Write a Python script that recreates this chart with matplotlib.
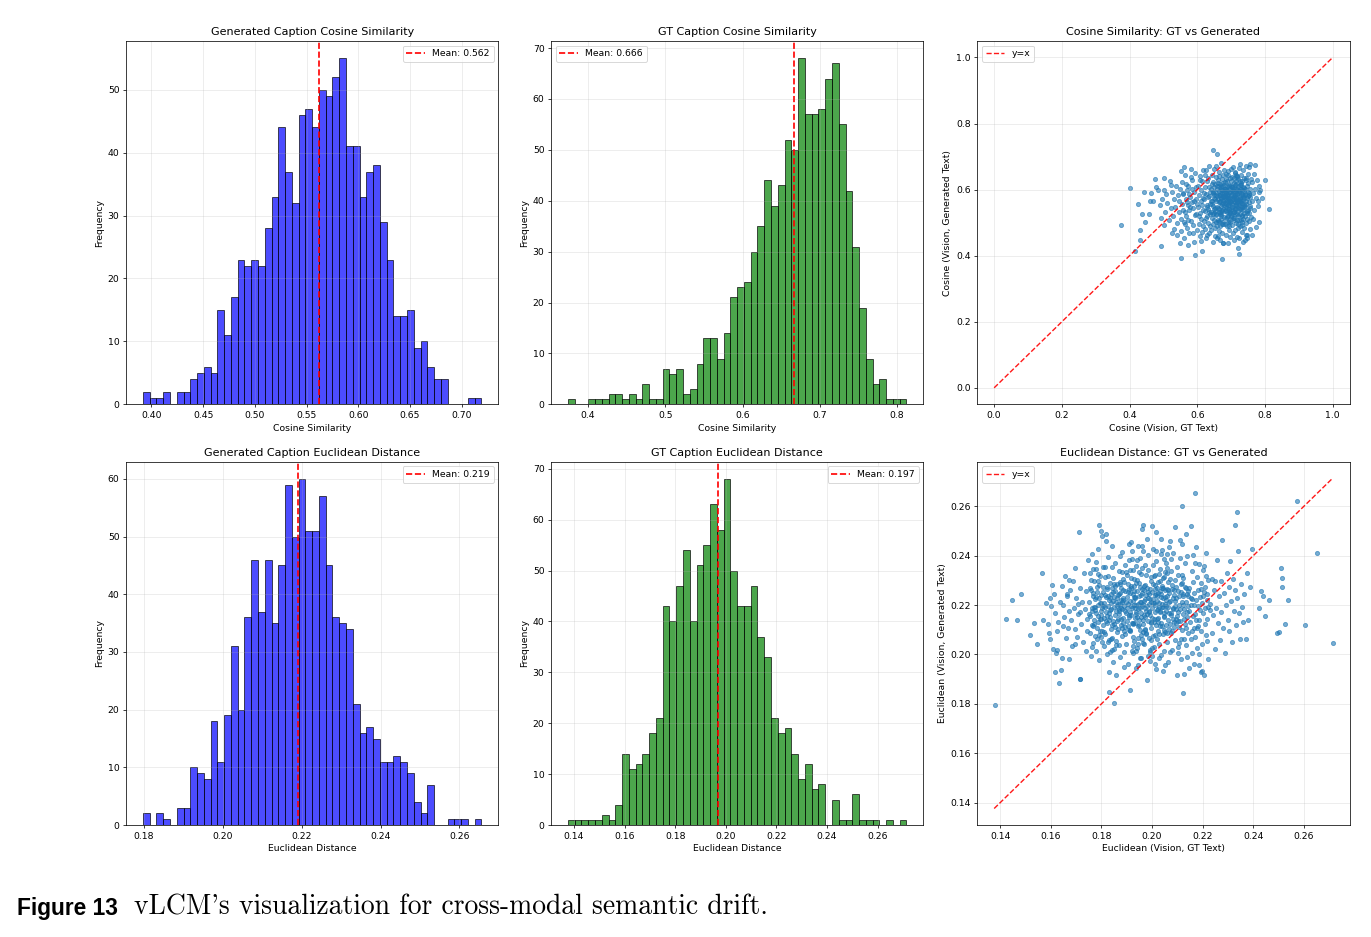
import numpy as np
import matplotlib.pyplot as plt

# histogram counts (50 bins each)
gen_cos_counts = [2, 1, 1, 2, 0, 2, 2, 4, 5, 6,
                  5, 15, 11, 17, 23, 22, 23, 22, 28, 33,
                  44, 37, 32, 46, 47, 44, 50, 49, 52, 55,
                  41, 41, 33, 37, 38, 29, 23, 14, 14, 15,
                  9, 10, 6, 4, 4, 0, 0, 0, 1, 1]
gt_cos_counts = [1, 0, 0, 1, 1, 1, 2, 2, 1, 2,
                 1, 4, 1, 1, 7, 6, 7, 2, 3, 8,
                 13, 13, 9, 14, 21, 23, 24, 30, 35, 44,
                 39, 43, 52, 50, 68, 57, 57, 58, 64, 67,
                 55, 42, 31, 19, 9, 4, 5, 1, 1, 1]
gen_euc_counts = [2, 0, 2, 1, 0, 3, 3, 10, 9, 8,
                  18, 11, 19, 31, 20, 36, 46, 37, 46, 35,
                  45, 59, 50, 60, 51, 51, 57, 45, 36, 35,
                  34, 21, 16, 17, 15, 11, 11, 12, 11, 9,
                  4, 2, 7, 0, 0, 1, 1, 1, 0, 1]
gt_euc_counts = [1, 1, 1, 1, 1, 2, 1, 4, 14, 11,
                 12, 14, 18, 21, 43, 40, 47, 54, 40, 51,
                 55, 63, 58, 68, 50, 43, 43, 47, 37, 33,
                 21, 18, 19, 14, 9, 12, 7, 8, 0, 5,
                 1, 1, 6, 1, 1, 1, 0, 1, 0, 1]

gen_cos_range = (0.3918, 0.7191)
gt_cos_range = (0.3739, 0.8121)
gen_euc_range = (0.1797, 0.2656)
gt_euc_range = (0.1376, 0.2714)

gen_cos_mean = 0.562
gt_cos_mean = 0.666
gen_euc_mean = 0.219
gt_euc_mean = 0.197

# cosine scatter: (GT text, generated text)
cos_tail = [(0.374,0.494),(0.400,0.604),(0.415,0.414),(0.426,0.557),(0.430,0.448),(0.432,0.477),
            (0.437,0.527),(0.443,0.592),(0.446,0.501),(0.456,0.527),(0.459,0.564),(0.463,0.589),
            (0.468,0.566),(0.476,0.631),(0.478,0.609),(0.484,0.598),(0.489,0.552),(0.492,0.515),
            (0.494,0.428),(0.497,0.573),(0.501,0.599),(0.503,0.634),(0.503,0.493),(0.505,0.532),
            (0.508,0.586),(0.512,0.560),(0.515,0.508),(0.518,0.627),(0.521,0.615),(0.521,0.545),
            (0.524,0.470),(0.526,0.592),(0.528,0.520),(0.531,0.481),(0.532,0.573),(0.535,0.548),
            (0.537,0.610),(0.539,0.499),(0.541,0.462),(0.543,0.585),(0.545,0.531),(0.547,0.566),
            (0.548,0.437),(0.549,0.603)]
cos_band = [(0.551,0.512),(0.552,0.392),(0.553,0.656),(0.553,0.475),(0.555,0.557),(0.556,0.624),
            (0.558,0.539),(0.559,0.586),(0.560,0.667),(0.561,0.453),(0.562,0.501),(0.564,0.645),
            (0.566,0.572),(0.567,0.521),(0.569,0.598),(0.571,0.484),(0.572,0.553),(0.574,0.612),
            (0.574,0.432),(0.575,0.537),(0.577,0.468),(0.578,0.579),(0.580,0.506),(0.581,0.662),
            (0.583,0.561),(0.584,0.629),(0.586,0.493),(0.587,0.545),(0.589,0.594),(0.590,0.441),
            (0.592,0.523),(0.593,0.650),(0.594,0.401),(0.595,0.571),(0.596,0.609),(0.598,0.478),
            (0.599,0.556),(0.557,0.589),(0.563,0.532),(0.568,0.617),(0.573,0.509),(0.579,0.548),
            (0.585,0.603),(0.591,0.566),(0.597,0.527),(0.588,0.468),(0.582,0.638),(0.576,0.587),
            (0.565,0.496),(0.570,0.563)]
cos_core = [(0.601,0.548),(0.603,0.612),(0.604,0.497),(0.606,0.583),(0.607,0.461),(0.608,0.530),
            (0.609,0.641),(0.610,0.566),(0.611,0.512),(0.612,0.598),(0.613,0.473),(0.614,0.552),
            (0.615,0.627),(0.616,0.489),(0.616,0.575),(0.617,0.539),(0.618,0.660),(0.619,0.504),
            (0.619,0.590),(0.612,0.445),(0.605,0.520),(0.609,0.628),
            (0.621,0.571),(0.622,0.482),(0.623,0.609),(0.624,0.536),(0.625,0.658),(0.626,0.514),
            (0.627,0.588),(0.628,0.463),(0.629,0.553),(0.630,0.625),(0.631,0.499),(0.632,0.577),
            (0.633,0.541),(0.634,0.672),(0.635,0.608),(0.636,0.468),(0.637,0.526),(0.638,0.594),
            (0.639,0.557),(0.622,0.643),(0.626,0.452),(0.629,0.519),(0.633,0.636),(0.636,0.581),
            (0.639,0.490),(0.630,0.548),
            (0.641,0.532),(0.641,0.601),(0.642,0.478),(0.643,0.566),(0.643,0.645),(0.644,0.513),
            (0.645,0.589),(0.645,0.442),(0.646,0.551),(0.647,0.624),(0.647,0.497),(0.648,0.574),
            (0.649,0.530),(0.649,0.663),(0.650,0.607),(0.651,0.484),(0.651,0.545),(0.652,0.592),
            (0.653,0.461),(0.653,0.618),(0.654,0.522),(0.655,0.566),(0.655,0.638),(0.656,0.503),
            (0.657,0.581),(0.657,0.454),(0.658,0.548),(0.659,0.611),(0.659,0.489),(0.644,0.557),
            (0.648,0.585),(0.652,0.536),(0.656,0.672),(0.646,0.525),
            (0.661,0.571),(0.661,0.508),(0.662,0.629),(0.662,0.544),(0.663,0.476),(0.664,0.597),
            (0.664,0.533),(0.665,0.652),(0.665,0.562),(0.666,0.491),(0.667,0.616),(0.667,0.525),
            (0.668,0.583),(0.668,0.448),(0.669,0.549),(0.670,0.607),(0.670,0.512),(0.671,0.574),
            (0.671,0.680),(0.672,0.537),(0.673,0.633),(0.673,0.469),(0.674,0.590),(0.674,0.556),
            (0.675,0.503),(0.676,0.621),(0.676,0.568),(0.677,0.437),(0.677,0.541),(0.678,0.596),
            (0.679,0.518),(0.679,0.659),(0.663,0.585),(0.666,0.531),(0.669,0.603),(0.672,0.495),
            (0.675,0.578),(0.678,0.552),(0.661,0.461),(0.665,0.640),(0.670,0.526),(0.674,0.612),
            (0.677,0.580),(0.668,0.566),
            (0.681,0.559),(0.681,0.622),(0.682,0.497),(0.682,0.585),(0.683,0.536),(0.684,0.648),
            (0.684,0.514),(0.685,0.571),(0.685,0.462),(0.686,0.603),(0.687,0.545),(0.687,0.627),
            (0.688,0.489),(0.688,0.566),(0.689,0.599),(0.690,0.521),(0.690,0.657),(0.691,0.552),
            (0.691,0.437),(0.692,0.588),(0.693,0.506),(0.693,0.615),(0.694,0.542),(0.694,0.478),
            (0.695,0.574),(0.696,0.634),(0.696,0.529),(0.697,0.593),(0.697,0.455),(0.698,0.561),
            (0.699,0.611),(0.699,0.518),(0.683,0.581),(0.686,0.548),(0.689,0.531),(0.692,0.644),
            (0.695,0.567),(0.698,0.501),(0.681,0.603),(0.685,0.590),(0.690,0.575),(0.694,0.558),
            (0.697,0.536),(0.688,0.612),
            (0.701,0.584),(0.701,0.521),(0.702,0.637),(0.702,0.556),(0.703,0.493),(0.704,0.608),
            (0.704,0.547),(0.705,0.668),(0.705,0.573),(0.706,0.468),(0.707,0.596),(0.707,0.532),
            (0.708,0.621),(0.708,0.508),(0.709,0.562),(0.710,0.649),(0.710,0.541),(0.711,0.585),
            (0.711,0.479),(0.712,0.613),(0.713,0.554),(0.713,0.627),(0.714,0.499),(0.714,0.571),
            (0.715,0.542),(0.716,0.601),(0.716,0.456),(0.717,0.588),(0.717,0.525),(0.718,0.639),
            (0.719,0.566),(0.719,0.485),(0.703,0.598),(0.706,0.579),(0.709,0.533),(0.712,0.562),
            (0.715,0.617),(0.718,0.550),(0.701,0.661),(0.705,0.515),(0.710,0.594),(0.714,0.643),
            (0.717,0.509),(0.708,0.578),
            (0.721,0.571),(0.721,0.632),(0.722,0.508),(0.723,0.589),(0.723,0.454),(0.724,0.553),
            (0.725,0.615),(0.725,0.527),(0.726,0.676),(0.727,0.576),(0.727,0.491),(0.728,0.601),
            (0.729,0.542),(0.729,0.644),(0.730,0.566),(0.731,0.473),(0.731,0.598),(0.732,0.521),
            (0.733,0.627),(0.733,0.560),(0.734,0.442),(0.735,0.583),(0.735,0.659),(0.736,0.512),
            (0.737,0.604),(0.737,0.547),(0.738,0.574),(0.739,0.485),(0.722,0.596),(0.726,0.540),
            (0.730,0.619),(0.734,0.579),(0.738,0.530),(0.724,0.666),(0.728,0.559),(0.732,0.502),
            (0.741,0.583),(0.742,0.521),(0.743,0.628),(0.744,0.557),(0.745,0.498),(0.746,0.611),
            (0.747,0.462),(0.748,0.574),(0.749,0.647),(0.750,0.539),(0.751,0.592),(0.752,0.506),
            (0.753,0.668),(0.754,0.561),(0.755,0.480),(0.756,0.603),(0.757,0.544),(0.758,0.632),
            (0.759,0.517),(0.744,0.670),(0.748,0.452),(0.752,0.589),(0.746,0.536),(0.755,0.577),
            (0.761,0.566),(0.762,0.623),(0.764,0.511),(0.765,0.589),(0.767,0.648),(0.768,0.537),
            (0.770,0.602),(0.772,0.574),(0.774,0.487),(0.776,0.628),(0.779,0.551),(0.782,0.612),
            (0.786,0.598),(0.763,0.463)]
cos_core2 = [(0.652,0.571),(0.658,0.603),(0.663,0.542),(0.667,0.589),(0.671,0.521),(0.676,0.558),
             (0.680,0.614),(0.684,0.537),(0.688,0.581),(0.692,0.503),(0.696,0.566),(0.699,0.627),
             (0.703,0.548),(0.706,0.592),(0.709,0.515),(0.713,0.577),(0.716,0.641),(0.720,0.535),
             (0.723,0.598),(0.727,0.562),(0.730,0.509),(0.734,0.609),(0.738,0.553),(0.742,0.586),
             (0.746,0.529),(0.750,0.619),(0.655,0.527),(0.661,0.619),(0.666,0.561),(0.672,0.598),
             (0.677,0.497),(0.682,0.569),(0.686,0.631),(0.690,0.552),(0.694,0.593),(0.698,0.531),
             (0.702,0.609),(0.707,0.571),(0.711,0.544),(0.715,0.603),(0.719,0.497),(0.722,0.567),
             (0.726,0.626),(0.731,0.586),(0.735,0.538),(0.740,0.601),(0.744,0.566),(0.748,0.512),
             (0.753,0.583),(0.757,0.551),(0.640,0.566),(0.646,0.594),(0.650,0.541),(0.656,0.583),
             (0.660,0.503),(0.665,0.612),(0.669,0.574),(0.674,0.534),(0.679,0.589),(0.683,0.601),
             (0.687,0.518),(0.691,0.574),(0.695,0.611),(0.700,0.541),(0.704,0.583),(0.708,0.636),
             (0.712,0.525),(0.717,0.561),(0.721,0.612),(0.725,0.546),(0.729,0.583),(0.733,0.523),
             (0.737,0.596),(0.741,0.549),(0.745,0.636),(0.749,0.582),(0.754,0.528),(0.636,0.533),
             (0.643,0.617),(0.648,0.509),(0.684,0.556),(0.689,0.585),(0.693,0.528),(0.697,0.601),
             (0.701,0.563),(0.705,0.529),(0.709,0.606),(0.713,0.556),(0.717,0.588),(0.721,0.521),
             (0.725,0.571),(0.728,0.614),(0.732,0.548),(0.736,0.567),(0.739,0.634),(0.676,0.644),
             (0.694,0.491),(0.712,0.652),(0.731,0.493),(0.664,0.504)]
cos_outer = [(0.615,0.413),(0.646,0.719),(0.658,0.707),(0.674,0.389),(0.724,0.405),(0.720,0.424),
             (0.813,0.542),(0.799,0.629),(0.791,0.576),(0.783,0.592),(0.783,0.501),(0.778,0.565),
             (0.770,0.675),(0.756,0.679),(0.744,0.464),(0.741,0.446),(0.707,0.447),(0.677,0.437)]

# euclidean scatter: (GT text, generated text)
euc_outer = [(0.1379,0.1797),(0.1421,0.2143),(0.1447,0.2220),(0.1468,0.2141),(0.1484,0.2246),
             (0.1518,0.2077),(0.1532,0.2129),(0.1547,0.2042),(0.1564,0.2329),(0.1570,0.2141),
             (0.1587,0.2123),(0.1581,0.2208),
             (0.2714,0.2045),(0.2653,0.2411),(0.2604,0.2119),(0.2574,0.2620),(0.2538,0.2222),
             (0.2524,0.2123),(0.2514,0.2309),(0.2514,0.2275),(0.2508,0.2351),(0.2501,0.2091),
             (0.2495,0.2085),(0.2464,0.2219),(0.2438,0.2238),(0.2432,0.2258),(0.2445,0.2154),
             (0.2422,0.2188),(0.2395,0.2428),(0.2387,0.2275),
             (0.2170,0.2655),(0.2117,0.2600),(0.2337,0.2578),(0.2328,0.2523),(0.1851,0.1805),
             (0.1830,0.1847),(0.1912,0.1857),(0.2122,0.1842),(0.1716,0.1902)]
euc_a = [(0.1592,0.2087),(0.1597,0.2064),(0.1601,0.2195),(0.1604,0.2281),(0.1609,0.2024),
         (0.1612,0.2246),(0.1615,0.1928),(0.1618,0.2168),(0.1623,0.2094),(0.1626,0.2020),
         (0.1629,0.2131),(0.1633,0.1885),(0.1636,0.2213),(0.1640,0.1936),(0.1643,0.2279),
         (0.1646,0.1986),(0.1650,0.2201),(0.1653,0.2152),(0.1657,0.2318),(0.1660,0.2067),
         (0.1663,0.2243),(0.1667,0.2109),(0.1670,0.2176),(0.1673,0.1981),(0.1677,0.2262),
         (0.1680,0.2138),(0.1684,0.2034),(0.1687,0.2297),(0.1690,0.2189),(0.1694,0.2103),
         (0.1697,0.2352),(0.1700,0.2227),(0.1704,0.2071),(0.1707,0.2164),(0.1711,0.2496),
         (0.1714,0.1902),(0.1717,0.2268),(0.1720,0.2125),(0.1724,0.2214),(0.1727,0.2049),
         (0.1731,0.2330),(0.1734,0.2183),(0.1737,0.2257),(0.1741,0.2097),(0.1744,0.2145),
         (0.1747,0.2381),(0.1598,0.2228),(0.1621,0.2006),(0.1648,0.2117),(0.1672,0.2302),
         (0.1695,0.2041),(0.1716,0.2172),(0.1738,0.2013),(0.1662,0.2238),(0.1709,0.2204)]
euc_b = [(0.1751,0.2213),(0.1753,0.2087),(0.1754,0.2329),(0.1756,0.2154),(0.1758,0.2262),
         (0.1759,0.1993),(0.1761,0.2178),(0.1762,0.2405),(0.1764,0.2121),(0.1766,0.2236),
         (0.1767,0.2046),(0.1769,0.2191),(0.1770,0.2298),(0.1772,0.2139),(0.1774,0.2224),
         (0.1775,0.2073),(0.1777,0.2347),(0.1778,0.2166),(0.1780,0.2015),(0.1782,0.2251),
         (0.1783,0.2109),(0.1785,0.2199),(0.1786,0.2426),(0.1788,0.2132),(0.1790,0.2283),
         (0.1791,0.1978),(0.1793,0.2207),(0.1794,0.2094),(0.1796,0.2317),(0.1798,0.2160),
         (0.1799,0.2241),(0.1801,0.2052),(0.1802,0.2189),(0.1804,0.2478),(0.1806,0.2118),
         (0.1807,0.2272),(0.1809,0.2035),(0.1810,0.2209),(0.1812,0.2146),(0.1814,0.2356),
         (0.1815,0.2081),(0.1817,0.2232),(0.1818,0.2171),(0.1820,0.2003),(0.1822,0.2264),
         (0.1823,0.2127),(0.1825,0.2393),(0.1826,0.2197),(0.1828,0.2058),(0.1830,0.2219),
         (0.1831,0.1927),(0.1833,0.2152),(0.1834,0.2289),(0.1836,0.2102),(0.1838,0.2245),
         (0.1839,0.2183),(0.1841,0.2441),(0.1842,0.2068),(0.1844,0.2217),(0.1846,0.2136),
         (0.1847,0.2309),(0.1849,0.2023),(0.1850,0.2193),(0.1852,0.2257),(0.1854,0.2112),
         (0.1855,0.2371),(0.1857,0.1918),(0.1858,0.2175),(0.1860,0.2228),(0.1862,0.2089),
         (0.1863,0.2286),(0.1865,0.2142),(0.1866,0.2203),(0.1868,0.2037),(0.1870,0.2339),
         (0.1871,0.2164),(0.1873,0.2249),(0.1874,0.1989),(0.1876,0.2121),(0.1878,0.2271),
         (0.1879,0.2187),(0.1881,0.2415),(0.1882,0.2076),(0.1884,0.2222),(0.1886,0.2148),
         (0.1887,0.2305),(0.1889,0.2009),(0.1890,0.2196),(0.1892,0.2255),(0.1894,0.2113),
         (0.1895,0.2363),(0.1897,0.2168),(0.1898,0.2043),(0.1900,0.2231),(0.1902,0.2134),
         (0.1903,0.2287),(0.1905,0.1962),(0.1906,0.2205),(0.1908,0.2098),(0.1910,0.2446),
         (0.1752,0.2165),(0.1757,0.2301),(0.1763,0.2029),(0.1768,0.2248),(0.1773,0.2182),
         (0.1779,0.2376),(0.1784,0.2061),(0.1789,0.2229),(0.1795,0.2143),(0.1800,0.2502),
         (0.1805,0.2198),(0.1811,0.2092),(0.1816,0.2314),(0.1821,0.2157),(0.1827,0.2238),
         (0.1832,0.2011),(0.1837,0.2207),(0.1843,0.2355),(0.1848,0.2124),(0.1853,0.2276),
         (0.1859,0.2054),(0.1864,0.2241),(0.1869,0.2186),(0.1875,0.2399),(0.1880,0.2107),
         (0.1885,0.2262),(0.1891,0.1951),(0.1896,0.2214),(0.1901,0.2322),(0.1907,0.2159),
         (0.1754,0.2271),(0.1765,0.2116),(0.1776,0.2194),(0.1787,0.2327),(0.1797,0.2071),
         (0.1808,0.2253),(0.1819,0.2459),(0.1829,0.2169),(0.1840,0.2019),(0.1851,0.2232),
         (0.1861,0.2137),(0.1872,0.2292),(0.1883,0.2186),(0.1893,0.2083),(0.1904,0.2253),
         (0.1909,0.2381),(0.1792,0.2523),(0.1817,0.2487),(0.1845,0.1968),(0.1877,0.2219)]
euc_c = [(0.1911,0.2218),(0.1913,0.2096),(0.1914,0.2342),(0.1916,0.2161),(0.1918,0.2269),
         (0.1919,0.2012),(0.1921,0.2187),(0.1922,0.2418),(0.1924,0.2128),(0.1926,0.2243),
         (0.1927,0.2055),(0.1929,0.2199),(0.1930,0.2306),(0.1932,0.2147),(0.1934,0.2231),
         (0.1935,0.1945),(0.1937,0.2358),(0.1938,0.2173),(0.1940,0.2027),(0.1942,0.2258),
         (0.1943,0.2116),(0.1945,0.2206),(0.1946,0.2439),(0.1948,0.2139),(0.1950,0.2291),
         (0.1951,0.1986),(0.1953,0.2214),(0.1954,0.2101),(0.1956,0.2325),(0.1958,0.2168),
         (0.1959,0.2248),(0.1961,0.2061),(0.1962,0.2196),(0.1964,0.2526),(0.1966,0.2125),
         (0.1967,0.2279),(0.1969,0.2042),(0.1970,0.2216),(0.1972,0.2153),(0.1974,0.2364),
         (0.1975,0.2088),(0.1977,0.2239),(0.1978,0.2178),(0.1980,0.1896),(0.1982,0.2271),
         (0.1983,0.2134),(0.1985,0.2401),(0.1986,0.2204),(0.1988,0.2065),(0.1990,0.2226),
         (0.1991,0.2009),(0.1993,0.2159),(0.1994,0.2296),(0.1996,0.2109),(0.1998,0.2252),
         (0.1999,0.2190),(0.2001,0.2519),(0.2002,0.2075),(0.2004,0.2224),(0.2006,0.2143),
         (0.2007,0.2316),(0.2009,0.2030),(0.2010,0.2200),(0.2012,0.2264),(0.2014,0.2119),
         (0.2015,0.2378),(0.2017,0.1941),(0.2018,0.2182),(0.2020,0.2235),(0.2022,0.2096),
         (0.2023,0.2293),(0.2025,0.2149),(0.2026,0.2210),(0.2028,0.2044),(0.2030,0.2346),
         (0.2031,0.2171),(0.2033,0.2256),(0.2034,0.1996),(0.2036,0.2128),(0.2038,0.2278),
         (0.2039,0.2194),(0.2041,0.2422),(0.2042,0.2083),(0.2044,0.2229),(0.2046,0.2155),
         (0.2047,0.2312),(0.2049,0.2016),(0.2050,0.2203),(0.2052,0.2262),(0.2054,0.2120),
         (0.2055,0.2370),(0.2057,0.2175),(0.2058,0.2050),(0.2060,0.2238),(0.2062,0.2141),
         (0.2063,0.2294),(0.2065,0.1969),(0.2066,0.2212),(0.2068,0.2105),(0.2069,0.2461),
         (0.1912,0.2172),(0.1917,0.2308),(0.1923,0.2036),(0.1928,0.2255),(0.1933,0.2189),
         (0.1939,0.2383),(0.1944,0.2068),(0.1949,0.2236),(0.1955,0.2150),(0.1960,0.2509),
         (0.1965,0.2205),(0.1971,0.2099),(0.1976,0.2321),(0.1981,0.2164),(0.1987,0.2245),
         (0.1992,0.2018),(0.1997,0.2214),(0.2003,0.2362),(0.2008,0.2131),(0.2013,0.2283),
         (0.2019,0.2061),(0.2024,0.2248),(0.2029,0.2193),(0.2035,0.2406),(0.2040,0.2114),
         (0.2045,0.2269),(0.2051,0.1958),(0.2056,0.2221),(0.2061,0.2329),(0.2067,0.2166),
         (0.1915,0.2278),(0.1925,0.2123),(0.1936,0.2201),(0.1947,0.2334),(0.1957,0.2078),
         (0.1968,0.2260),(0.1979,0.2466),(0.1989,0.2176),(0.2000,0.2026),(0.2011,0.2239),
         (0.2021,0.2144),(0.2032,0.2299),(0.2043,0.2193),(0.2053,0.2090),(0.2064,0.2260),
         (0.1920,0.2388),(0.1931,0.2227),(0.1941,0.2153),(0.1952,0.2273),(0.1963,0.2047),
         (0.1973,0.2190),(0.1984,0.2341),(0.1995,0.2132),(0.2005,0.2207),(0.2016,0.2418),
         (0.2027,0.2081),(0.2037,0.2246),(0.2048,0.2168),(0.2059,0.2352),(0.2070,0.2011),
         (0.1918,0.2455),(0.1944,0.1958),(0.1965,0.2418),(0.1990,0.1975),(0.2017,0.2497),
         (0.2045,0.1935),(0.2066,0.2437),(0.1958,0.1986),(0.2010,0.1962),(0.2036,0.2469),
         (0.1926,0.2004),(0.1952,0.2392),(0.1983,0.1993),(0.2004,0.2429),(0.2029,0.1985),
         (0.2058,0.2405),(0.1938,0.2012),(0.1962,0.2441),(0.1999,0.1992),(0.2049,0.2386)]
euc_d = [(0.2071,0.2215),(0.2073,0.2088),(0.2075,0.2337),(0.2076,0.2158),(0.2078,0.2266),
         (0.2080,0.2017),(0.2082,0.2184),(0.2083,0.2412),(0.2085,0.2131),(0.2087,0.2240),
         (0.2089,0.2059),(0.2090,0.2196),(0.2092,0.2301),(0.2094,0.2144),(0.2096,0.2228),
         (0.2097,0.1918),(0.2099,0.2354),(0.2101,0.2170),(0.2103,0.2031),(0.2104,0.2255),
         (0.2106,0.2113),(0.2108,0.2202),(0.2110,0.2463),(0.2111,0.2136),(0.2113,0.2286),
         (0.2115,0.1982),(0.2117,0.2211),(0.2118,0.2098),(0.2120,0.2321),(0.2122,0.2163),
         (0.2124,0.2244),(0.2125,0.2064),(0.2127,0.1921),(0.2129,0.2370),(0.2131,0.2122),
         (0.2132,0.2275),(0.2134,0.2040),(0.2136,0.2213),(0.2138,0.2150),(0.2139,0.2398),
         (0.2141,0.2085),(0.2143,0.2236),(0.2145,0.2175),(0.2146,0.1946),(0.2148,0.2268),
         (0.2150,0.2131),(0.2152,0.2519),(0.2153,0.2201),(0.2155,0.2062),(0.2157,0.2223),
         (0.2159,0.2007),(0.2160,0.2156),(0.2162,0.2293),(0.2164,0.2106),(0.2166,0.2249),
         (0.2167,0.1963),(0.2169,0.2372),(0.2171,0.2072),(0.2173,0.2221),(0.2174,0.2140),
         (0.2176,0.2313),(0.2178,0.2027),(0.2180,0.2197),(0.2181,0.2261),(0.2183,0.2116),
         (0.2185,0.2366),(0.2187,0.2001),(0.2188,0.2179),(0.2190,0.2232),(0.2192,0.2093),
         (0.2194,0.2290),(0.2195,0.1929),(0.2197,0.2207),(0.2199,0.2041),(0.2201,0.2343),
         (0.2202,0.2168),(0.2204,0.2253),(0.2206,0.1917),(0.2208,0.2125),(0.2209,0.2274),
         (0.2211,0.2187),(0.2213,0.2409),(0.2215,0.2078),(0.2216,0.2219),(0.2218,0.2145),
         (0.2220,0.1983),(0.2222,0.2302),(0.2223,0.2193),(0.2089,0.2517),(0.2133,0.2486),
         (0.2074,0.2387),(0.2102,0.2005),(0.2119,0.2446),(0.2140,0.1990),(0.2163,0.2402),
         (0.2184,0.1956),(0.2205,0.2358),(0.2219,0.2056),(0.2095,0.2272),(0.2126,0.2183),
         (0.2156,0.2339),(0.2179,0.2108),(0.2200,0.2235),(0.2214,0.2318),(0.2081,0.2145),
         (0.2112,0.2392),(0.2144,0.2257),(0.2175,0.2434),(0.2198,0.1935),(0.2217,0.2244)]
euc_e = [(0.2231,0.2204),(0.2235,0.2086),(0.2238,0.2307),(0.2242,0.2159),(0.2246,0.2262),
         (0.2249,0.2023),(0.2253,0.2190),(0.2256,0.2384),(0.2260,0.2128),(0.2263,0.2236),
         (0.2267,0.2058),(0.2271,0.2297),(0.2274,0.2171),(0.2278,0.2462),(0.2281,0.2108),
         (0.2285,0.2247),(0.2289,0.2004),(0.2292,0.2200),(0.2296,0.2331),(0.2299,0.2141),
         (0.2303,0.2273),(0.2306,0.2094),(0.2310,0.2378),(0.2314,0.2215),(0.2317,0.2052),
         (0.2321,0.2307),(0.2324,0.2178),(0.2328,0.2262),(0.2331,0.2121),(0.2335,0.2229),
         (0.2339,0.2419),(0.2343,0.2169),(0.2347,0.2061),(0.2351,0.2287),(0.2355,0.2193),
         (0.2360,0.2131),(0.2365,0.2244),(0.2370,0.2062),(0.2376,0.2329),(0.2381,0.2141)]
euc_f = [(0.1762,0.2188),(0.1771,0.2123),(0.1781,0.2274),(0.1787,0.2156),(0.1797,0.2209),
         (0.1803,0.2097),(0.1813,0.2241),(0.1819,0.2137),(0.1824,0.2318),(0.1832,0.2181),
         (0.1839,0.2064),(0.1845,0.2252),(0.1853,0.2161),(0.1858,0.2213),(0.1867,0.2103),
         (0.1872,0.2286),(0.1879,0.2145),(0.1886,0.2229),(0.1893,0.2174),(0.1899,0.2336),
         (0.1904,0.2117),(0.1911,0.2249),(0.1917,0.2198),(0.1923,0.2072),(0.1929,0.2233),
         (0.1936,0.2165),(0.1942,0.2301),(0.1947,0.2121),(0.1953,0.2187),(0.1959,0.2264),
         (0.1966,0.2139),(0.1971,0.2223),(0.1977,0.2082),(0.1983,0.2253),(0.1989,0.2172),
         (0.1995,0.2312),(0.2001,0.2146),(0.2007,0.2209),(0.2013,0.2077),(0.2019,0.2268),
         (0.2025,0.2185),(0.2031,0.2117),(0.2037,0.2232),(0.2043,0.2309),(0.2049,0.2151),
         (0.2055,0.2197),(0.2061,0.2088),(0.2067,0.2247),(0.2073,0.2169),(0.2079,0.2283),
         (0.2085,0.2113),(0.2091,0.2216),(0.2098,0.2154),(0.2104,0.2322),(0.2110,0.2186),
         (0.2116,0.2061),(0.2122,0.2238),(0.2128,0.2142),(0.2135,0.2271),(0.2142,0.2195),
         (0.1768,0.2346),(0.1792,0.2079),(0.1816,0.2191),(0.1835,0.2227),(0.1856,0.2038),
         (0.1874,0.2205),(0.1891,0.2295),(0.1908,0.2152),(0.1925,0.2217),(0.1944,0.2044),
         (0.1961,0.2352),(0.1979,0.2195),(0.1997,0.2128),(0.2015,0.2243),(0.2033,0.2176),
         (0.2051,0.2335),(0.2069,0.2124),(0.2087,0.2261),(0.2106,0.2047),(0.2124,0.2201),
         (0.1778,0.2232),(0.1798,0.2144),(0.1822,0.2273),(0.1843,0.2118),(0.1861,0.2197),
         (0.1882,0.2333),(0.1901,0.2189),(0.1919,0.2126),(0.1938,0.2289),(0.1956,0.2211),
         (0.1974,0.2104),(0.1993,0.2266),(0.2011,0.2171),(0.2029,0.2325),(0.2047,0.2098),
         (0.2065,0.2192),(0.2083,0.2229),(0.2102,0.2136),(0.2119,0.2289),(0.2138,0.2171),
         (0.1806,0.2355),(0.1827,0.2049),(0.1849,0.2286),(0.1868,0.2174),(0.1888,0.2097),
         (0.1907,0.2267),(0.1926,0.2343),(0.1946,0.2183),(0.1964,0.2092),(0.1985,0.2228),
         (0.2003,0.2284),(0.2022,0.2131),(0.2041,0.2206),(0.2059,0.2267),(0.2077,0.2093),
         (0.2096,0.2183),(0.2114,0.2254),(0.2133,0.2106),(0.2152,0.2229),(0.2171,0.2164),
         (0.1785,0.2296),(0.1829,0.2141),(0.1871,0.2246),(0.1914,0.2101),(0.1955,0.2239),
         (0.1996,0.2057),(0.2039,0.2271),(0.2081,0.2188),(0.2123,0.2311),(0.2165,0.2202),
         (0.1800,0.2178),(0.1841,0.2271),(0.1884,0.2129),(0.1927,0.2276),(0.1969,0.2158),
         (0.2010,0.2322),(0.2053,0.2231),(0.2094,0.2126),(0.2137,0.2244),(0.2186,0.2141),
         (0.1881,0.2212),(0.1933,0.2129),(0.1972,0.2281),(0.2021,0.2216),(0.2072,0.2304),
         (0.2108,0.2237),(0.2158,0.2094),(0.2193,0.2265),(0.2229,0.2182),(0.2247,0.2298)]

fig = plt.figure(figsize=(1371 / 67, 937 / 67), dpi=67)

col_left = [0.0919, 0.4019, 0.7128]
col_w = 0.2716
row_bottom = [0.5685, 0.1195]
row_h = 0.3878


def hist_panel(ax, counts, rng, color, mean, title, xlabel, loc):
    edges = np.linspace(rng[0], rng[1], len(counts) + 1)
    centers = (edges[:-1] + edges[1:]) / 2
    ax.hist(centers, bins=edges, weights=counts, color=color, alpha=0.7, edgecolor='black')
    ax.axvline(mean, color='red', linestyle='--', linewidth=1.8, label=f'Mean: {mean:.3f}')
    ax.set_title(title)
    ax.set_xlabel(xlabel)
    ax.set_ylabel('Frequency')
    ax.legend(loc=loc)
    ax.grid(True, alpha=0.3)


def scatter_panel(ax, pts, line, title, xlabel, ylabel):
    pts = np.array(pts)
    ax.scatter(pts[:, 0], pts[:, 1], alpha=0.6, s=20)
    ax.plot(line, line, 'r--', linewidth=1.5, alpha=0.9, label='y=x')
    ax.set_title(title)
    ax.set_xlabel(xlabel)
    ax.set_ylabel(ylabel)
    ax.legend(loc='upper left')
    ax.grid(True, alpha=0.3)


ax1 = fig.add_axes([col_left[0], row_bottom[0], col_w, row_h])
hist_panel(ax1, gen_cos_counts, gen_cos_range, 'blue', gen_cos_mean,
           'Generated Caption Cosine Similarity', 'Cosine Similarity', 'upper right')
ax2 = fig.add_axes([col_left[1], row_bottom[0], col_w, row_h])
hist_panel(ax2, gt_cos_counts, gt_cos_range, 'green', gt_cos_mean,
           'GT Caption Cosine Similarity', 'Cosine Similarity', 'upper left')
ax3 = fig.add_axes([col_left[2], row_bottom[0], col_w, row_h])
scatter_panel(ax3, cos_tail + cos_band + cos_core + cos_core2 + cos_outer, [0, 1],
              'Cosine Similarity: GT vs Generated',
              'Cosine (Vision, GT Text)', 'Cosine (Vision, Generated Text)')

ax4 = fig.add_axes([col_left[0], row_bottom[1], col_w, row_h])
hist_panel(ax4, gen_euc_counts, gen_euc_range, 'blue', gen_euc_mean,
           'Generated Caption Euclidean Distance', 'Euclidean Distance', 'upper right')
ax5 = fig.add_axes([col_left[1], row_bottom[1], col_w, row_h])
hist_panel(ax5, gt_euc_counts, gt_euc_range, 'green', gt_euc_mean,
           'GT Caption Euclidean Distance', 'Euclidean Distance', 'upper right')
ax6 = fig.add_axes([col_left[2], row_bottom[1], col_w, row_h])
scatter_panel(ax6, euc_outer + euc_a + euc_b + euc_c + euc_d + euc_e + euc_f,
              [gt_euc_range[0], gt_euc_range[1]],
              'Euclidean Distance: GT vs Generated',
              'Euclidean (Vision, GT Text)', 'Euclidean (Vision, Generated Text)')

# caption under the figure
fig.text(17 / 1371, 0.0235, 'Figure 13', fontsize=24.5, fontweight='bold',
         family=['Liberation Sans Narrow', 'Liberation Sans'], va='baseline')
fig.text(134 / 1371, 0.0235, "vLCM's visualization for cross-modal semantic drift.",
         fontsize=29.7, family='cmr10', va='baseline')

fig.savefig('out.png', dpi=67)
